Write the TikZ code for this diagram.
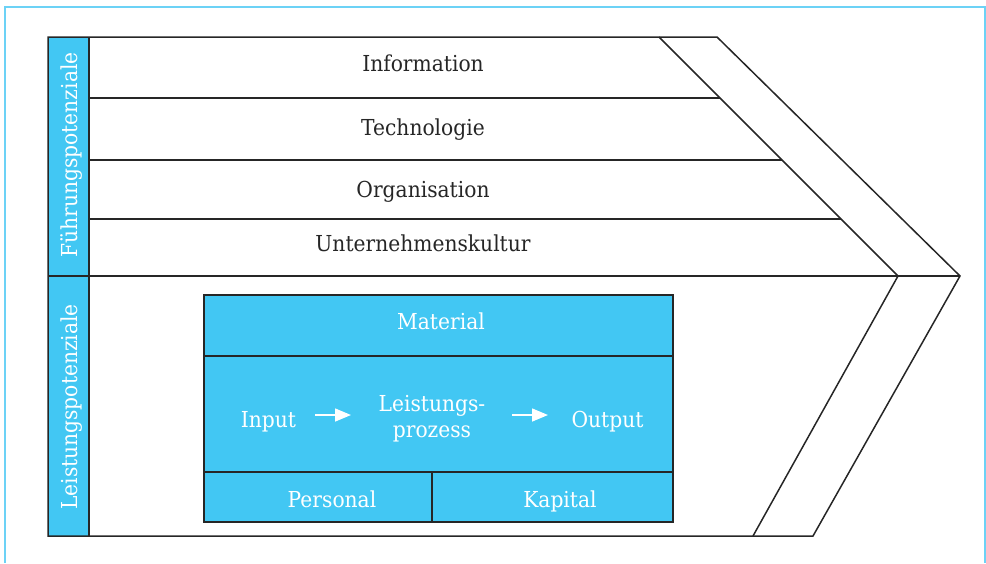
\documentclass[tikz,border=0pt]{standalone}
\usepackage{fontspec}
\setmainfont{DejaVu Serif}[FakeStretch=0.92]
\usetikzlibrary{arrows.meta}
\definecolor{potblue}{HTML}{42C7F3}
\definecolor{framebl}{HTML}{6CD2F6}
\definecolor{ink}{HTML}{262626}

\begin{document}
\begin{tikzpicture}[x=1pt,y=-1pt,
  rule/.style={draw=ink,line width=1.5pt},
  lbl/.style={font=\fontsize{22}{26}\selectfont,text=ink,anchor=base,inner sep=0pt},
  wlbl/.style={lbl,text=white},
  arr/.style={draw=white,line width=1.5pt,-{Triangle[length=16pt,width=13pt]}}]
\useasboundingbox (0,0) rectangle (986,563);

% outer frame, open at the bottom
\draw[framebl,line width=2pt] (5,563) -- (5,7) -- (985,7) -- (985,563);

% side column for the two potential groups
\fill[potblue] (48,37) rectangle (89,536);

% chevron body with its inner diagonal
\draw[rule,line join=miter] (48,37) -- (717,37) -- (960,276) -- (813,536) -- (48,536) -- cycle;
\draw[rule] (659,37) -- (898,276) -- (753,536);
\draw[rule] (89,37) -- (89,536);
\draw[rule] (89,98) -- (720,98);
\draw[rule] (89,160) -- (782,160);
\draw[rule] (89,219) -- (841,219);
\draw[rule] (48,276) -- (960,276);

% performance block
\fill[potblue] (204,295) rectangle (673,522);
\draw[rule] (204,295) rectangle (673,522);
\draw[rule] (204,356) -- (673,356);
\draw[rule] (204,472) -- (673,472);
\draw[rule] (432,472) -- (432,522);

% leadership layers
\node[lbl] (info) at (423,71) {Information};
\node[lbl] (tech) at (423,135) {Technologie};
\node[lbl] (orga) at (423,197) {Organisation};
\node[lbl] (kult) at (423,251.5) {Unternehmenskultur};

% group labels
\node[wlbl,rotate=90] (fuehr) at (77,155) {Führungspotenziale};
\node[wlbl,rotate=90] (leist) at (77,407) {Leistungspotenziale};

% performance block texts
\node[wlbl] (mat) at (441,329) {Material};
\node[wlbl] (inp) at (268.5,427) {Input};
\node[wlbl] (proc1) at (432,411) {Leistungs-};
\node[wlbl] (proc2) at (432,437) {prozess};
\node[wlbl] (outp) at (607.5,427) {Output};
\node[wlbl] (pers) at (332,507) {Personal};
\node[wlbl] (kap) at (560,507) {Kapital};

% process flow
\coordinate (a1s) at (315,415);
\coordinate (a1e) at (351,415);
\coordinate (a2s) at (512,415);
\coordinate (a2e) at (548,415);
\draw[arr] (a1s) -- (a1e);
\draw[arr] (a2s) -- (a2e);
\end{tikzpicture}
\end{document}
